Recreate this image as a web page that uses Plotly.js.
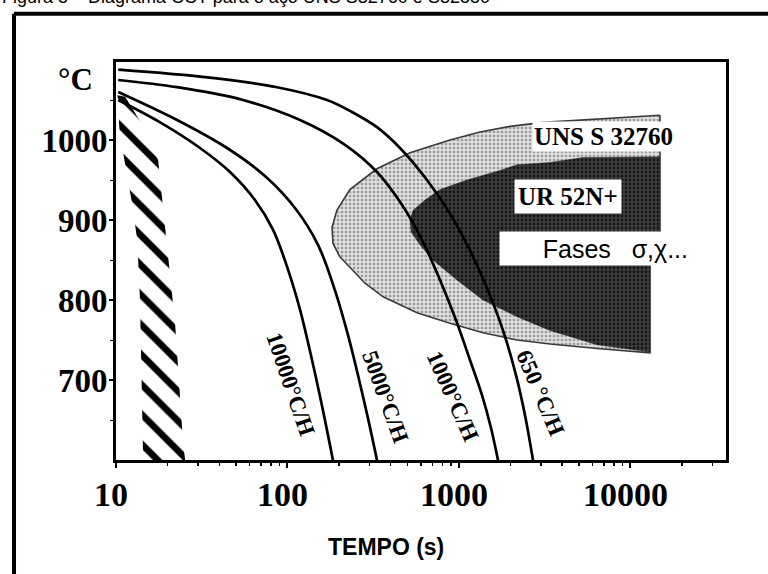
<!DOCTYPE html>
<html><head><meta charset="utf-8">
<script src="https://cdn.plot.ly/plotly-3.0.1.min.js"></script>
<style>html,body{margin:0;padding:0;background:#fff;} #chart{width:768px;height:574px;}</style>
</head><body><div id="chart"></div>
<script>
// ---- data ----
const caption = 'Figura 5 – Diagrama CCT para o aço UNS S32760 e S32550';
const xTickVals = [10, 100, 1000, 10000];
const xTickText = ['10', '100', '1000', '10000'];
const xMinorVals = [20,30,40,50,60,70,80,90,200,300,400,500,600,700,800,900,2000,3000,4000,5000,6000,7000,8000,9000,20000,30000];
const yTickVals = [700, 800, 900, 1000];
const yMinorVals = [650, 750, 850, 950, 1050];

// cooling curves: time (s), temperature (°C)
const t10000 = [10.3, 18.1, 30.9, 46.2, 64.6, 82.3, 100.7, 118.3, 139, 161, 184];
const T10000 = [1050, 1022, 990, 960, 925, 888, 838, 788, 725, 662, 600];
const t5000 = [10.3, 22.7, 44.4, 73.9, 110.6, 150.6, 189.2, 225.4, 257.7, 294.7, 332.5];
const T5000 = [1060, 1025, 990, 955, 915, 869, 812, 756, 706, 652, 600];
const t1000 = [10.3, 22.7, 55, 118.3, 216.4, 332.5, 465, 609, 775, 960, 1159, 1362, 1537, 1688];
const T1000 = [1075, 1066, 1050, 1025, 994, 960, 919, 875, 825, 775, 725, 681, 640, 600];
const t650 = [10.3, 35.3, 86.9, 170, 237.7, 332.5, 452.9, 650.8, 886, 1159, 1476, 1806, 2150, 2426, 2701];
const T650 = [1088, 1078, 1066, 1050, 1035, 1016, 990, 950, 908, 862, 812, 762, 706, 656, 600];

// precipitation domains (sigma, chi ...)
const tUNS = [14860, 6640, 3090, 1984, 1326, 886, 518, 332, 231, 194, 182, 184, 202, 231, 283, 361, 569, 886, 1380, 2179, 3393, 6640, 13000, 13000, 14860, 14860];
const TUNS = [1031, 1026, 1022, 1017, 1010, 1000, 984, 964, 938, 912, 891, 871, 854, 841, 821, 804, 784, 771, 759, 750, 745, 739, 734, 862, 862, 1031];
const tUR = [14860, 5285, 3393, 2179, 1734, 1113, 775, 634, 539, 518, 526, 592, 705, 973, 1380, 2179, 3393, 6378, 13000, 13000, 14860, 14860];
const TUR = [979, 978, 972, 969, 962, 950, 938, 925, 912, 900, 885, 869, 850, 825, 800, 779, 762, 744, 735, 865, 865, 979];

// hatched band near the origin
const tBand = [10.2, 10.5, 12.4, 13.3, 13.8, 14.4, 25.3, 24.6, 22.1, 18.8, 17.6, 15.2, 11.3, 10.2];
const TBand = [1056, 1009, 921, 875, 800, 600, 600, 622, 771, 921, 975, 1009, 1054, 1056];

// labels
const curveLabels = ['10000°C/H', '5000°C/H', '1000°C/H', '650 °C/H'];
const curveLabelT = [104, 370, 923, 2965];
const curveLabelY = [694, 679, 680, 684];
const curveLabelAngle = [71, 70, 66, 67];

const serif = 'Liberation Serif, Times New Roman, serif';
const sans = 'Liberation Sans, Arial, sans-serif';

const curveLine = {color: 'black', width: 2.7, shape: 'spline', smoothing: 1};

const traces = [
  {x: tUNS, y: TUNS, mode: 'lines', fill: 'toself', line: {color: '#3a3a3a', width: 1.6},
   fillcolor: '#d6d6d6', fillpattern: {shape: '.', size: 4, solidity: 0.35, fgcolor: '#9a9a9a', bgcolor: '#dedede', fillmode: 'replace'},
   hoverinfo: 'skip'},
  {x: tUR, y: TUR, mode: 'lines', fill: 'toself', line: {color: '#2a2a2a', width: 0.5},
   fillcolor: '#333', fillpattern: {shape: '.', size: 4, solidity: 0.4, fgcolor: '#141414', bgcolor: '#3e3e3e', fillmode: 'replace'},
   hoverinfo: 'skip'},
  {x: tBand, y: TBand, mode: 'lines', fill: 'toself', line: {width: 0, color: 'rgba(0,0,0,0)'},
   fillcolor: 'white', fillpattern: {shape: '\\', size: 21, solidity: 0.32, fgcolor: 'black', bgcolor: 'white', fillmode: 'replace'},
   hoverinfo: 'skip'},
  {x: t10000, y: T10000, mode: 'lines', line: curveLine},
  {x: t5000, y: T5000, mode: 'lines', line: curveLine},
  {x: t1000, y: T1000, mode: 'lines', line: curveLine},
  {x: t650, y: T650, mode: 'lines', line: curveLine}
];

const annotations = curveLabels.map((txt, i) => ({
  x: Math.log10(curveLabelT[i]), y: curveLabelY[i], xref: 'x', yref: 'y',
  xanchor: 'center', yanchor: 'middle',
  text: txt, showarrow: false, textangle: curveLabelAngle[i],
  font: {family: serif, size: 23, color: 'black', weight: 'bold'}
}));
annotations.push(
  {x: Math.log10(7005), y: 1004, xref: 'x', yref: 'y', xanchor: 'center', yanchor: 'middle', text: 'UNS S 32760', showarrow: false,
   bgcolor: 'white', borderpad: 1, font: {family: serif, size: 25, color: 'black', weight: 'bold'}},
  {x: Math.log10(4322), y: 929, xref: 'x', yref: 'y', xanchor: 'center', yanchor: 'middle', text: 'UR 52N+', showarrow: false,
   bgcolor: 'white', borderpad: 3, font: {family: serif, size: 25, color: 'black', weight: 'bold'}},
  {x: Math.log10(6210), y: 864, xref: 'x', yref: 'y', xanchor: 'center', yanchor: 'middle', text: 'Fases\u00a0\u00a0\u00a0σ,χ...', showarrow: false,
   bgcolor: 'white', borderpad: 2, width: 186, height: 29, align: 'right',
   font: {family: sans, size: 25, color: 'black'}},
  {x: -0.067, y: 0.955, xref: 'paper', yref: 'paper', xanchor: 'center', yanchor: 'middle', text: '°C', showarrow: false,
   font: {family: serif, size: 31, color: 'black', weight: 'bold'}},
  {x: 0.443, y: -0.218, xref: 'paper', yref: 'paper', xanchor: 'center', yanchor: 'middle', text: 'TEMPO (s)', showarrow: false,
   font: {family: sans, size: 23, color: 'black', weight: 'bold'}},
  {x: -0.19, y: 1.132, xref: 'paper', yref: 'paper', xanchor: 'left', yanchor: 'bottom', text: caption, showarrow: false,
   font: {family: sans, size: 18, color: 'black'}}
);

const shapes = [
  {type: 'line', xref: 'paper', yref: 'paper', x0: -0.1672, x1: -0.1672, y0: -0.3, y1: 1.121, line: {color: 'black', width: 4}},
  {type: 'line', xref: 'paper', yref: 'paper', x0: -0.1672, x1: 1.08, y0: 1.121, y1: 1.121, line: {color: 'black', width: 4}}
];

const layout = {
  width: 768, height: 574,
  margin: {l: 116, r: 42, t: 62, b: 114},
  paper_bgcolor: 'white', plot_bgcolor: 'white',
  showlegend: false,
  xaxis: {type: 'log', range: [1, 4.557], tickmode: 'array', tickvals: xTickVals, ticktext: xTickText,
    ticks: 'outside', ticklen: 5, tickwidth: 2, tickcolor: 'black', ticklabelstandoff: -3, ticklabelshift: -5,
    minor: {tickmode: 'array', tickvals: xMinorVals, ticks: 'outside', ticklen: 3, tickwidth: 1.5, tickcolor: 'black', showgrid: false},
    showline: true, linewidth: 3, linecolor: 'black', mirror: true, showgrid: false, zeroline: false,
    tickfont: {family: serif, size: 34, color: 'black', weight: 'bold'}},
  yaxis: {range: [600, 1097.5], tickmode: 'array', tickvals: yTickVals,
    ticks: 'outside', ticklen: 4, tickwidth: 1.5, tickcolor: 'black', ticklabelstandoff: -5,
    minor: {tickmode: 'array', tickvals: yMinorVals, ticks: 'outside', ticklen: 3, tickwidth: 1, tickcolor: 'black', showgrid: false},
    showline: true, linewidth: 3, linecolor: 'black', mirror: true, showgrid: false, zeroline: false,
    tickfont: {family: serif, size: 33, color: 'black', weight: 'bold'}},
  annotations: annotations,
  shapes: shapes
};

Plotly.newPlot('chart', traces, layout, {staticPlot: true, displayModeBar: false});
</script>
</body></html>
